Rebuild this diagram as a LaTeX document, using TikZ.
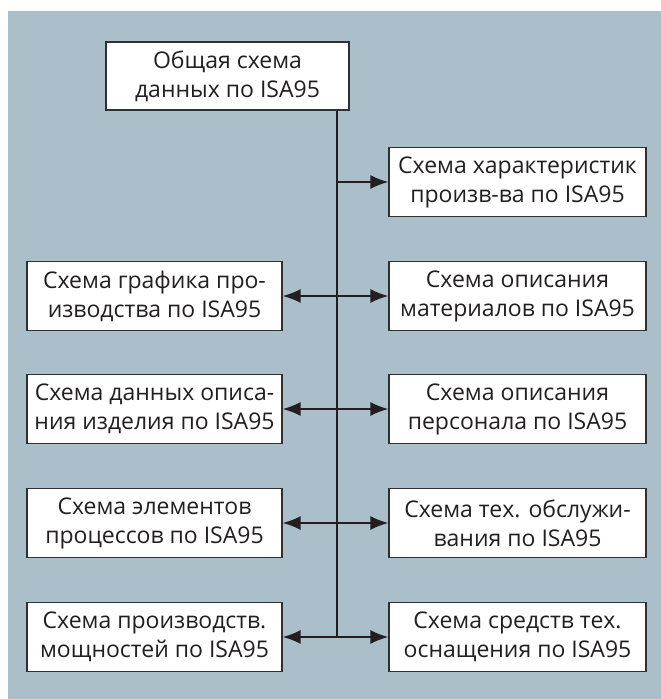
\documentclass[tikz,border=0pt]{standalone}
\usepackage{fontspec}
\setmainfont{Open Sans}
\usetikzlibrary{arrows.meta}
\definecolor{bgblue}{HTML}{AABFCA}
\definecolor{txt}{HTML}{231F20}
\definecolor{bord}{HTML}{303030}
\begin{document}
\begin{tikzpicture}[x=1pt,y=-1pt,
  box/.style={draw=bord,line width=1.1pt,fill=white,inner sep=0pt,align=center,
    text=txt,font=\fontsize{23}{29}\selectfont},
  rbox/.style={box,minimum width=257pt,minimum height=69pt},
  lbox/.style={box,minimum width=255pt,minimum height=69pt},
  conn/.style={line width=2pt,draw=txt},
  arr/.style={conn,-{Latex[length=18pt,width=14pt]}},
  darr/.style={conn,{Latex[length=18pt,width=14pt]}-{Latex[length=18pt,width=14pt]}}]
\useasboundingbox (0,0) rectangle (661,699);
\fill[white] (0,0) rectangle (661,699);
\fill[bgblue] (8,11) rectangle (661,699);
\node[box,minimum width=243pt,minimum height=68pt] (top) at (227.5,76) {Общая схема\\данных по ISA95};
\node[rbox] (r1) at (517.5,182) {Схема характеристик\\произв-ва по ISA95};
\node[lbox] (l2) at (154.5,296) {Схема графика про-\\изводства по ISA95};
\node[rbox] (r2) at (517.5,296) {Схема описания\\материалов по ISA95};
\node[lbox] (l3) at (154.5,409) {Схема данных описа-\\ния изделия по ISA95};
\node[rbox] (r3) at (517.5,409) {Схема описания\\персонала по ISA95};
\node[lbox] (l4) at (154.5,523) {Схема элементов\\процессов по ISA95};
\node[rbox] (r4) at (517.5,523) {Схема тех. обслужи-\\вания по ISA95};
\node[lbox] (l5) at (154.5,637) {Схема производств.\\мощностей по ISA95};
\node[rbox] (r5) at (517.5,637) {Схема средств тех.\\оснащения по ISA95};
\coordinate (s1) at (337,182);
\coordinate (s5) at (337,637);
\draw[conn] (s5 |- top.south) -- (s5);
\draw[arr] (s1) -- (r1.west);
\draw[darr] (l2.east) -- (r2.west);
\draw[darr] (l3.east) -- (r3.west);
\draw[darr] (l4.east) -- (r4.west);
\draw[darr] (l5.east) -- (r5.west);
\end{tikzpicture}
\end{document}
